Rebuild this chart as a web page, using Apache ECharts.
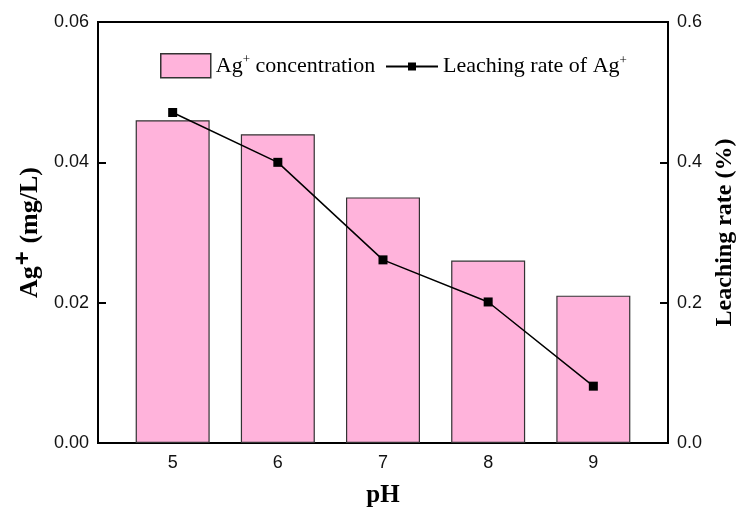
<!DOCTYPE html>
<html>
<head>
<meta charset="UTF-8">
<title>Ag+ vs pH</title>
<script src="https://cdn.jsdelivr.net/npm/echarts@6/dist/echarts.min.js"></script>
<style>
  html, body { margin: 0; padding: 0; background: #fff; }
  #chart { width: 740px; height: 515px; }
</style>
</head>
<body>
<div id="chart"></div>
<script>
// data
const phValues = [5, 6, 7, 8, 9];
const agConc = [0.046, 0.044, 0.035, 0.026, 0.021];        // mg/L
const leachRate = [0.471, 0.400, 0.261, 0.201, 0.081];      // %
const leftTicks = [0, 0.02, 0.04, 0.06];
const rightTicks = [0, 0.2, 0.4, 0.6];

const serif = '"Liberation Serif", "Times New Roman", serif';
const sans = '"Liberation Sans", Arial, sans-serif';

const chart = echarts.init(document.getElementById('chart'));

// superscript "+" helper for rich text
function sup(str, cls) {
  return str.split('+').map(function (p) { return '{' + cls + '|' + p + '}'; }).join('{' + cls + 's|+}').replace(/\{\w+\|\}/g, '');
}

const legendRich = {
  t: { fontFamily: serif, fontSize: 22, color: '#000' },
  ts: { fontFamily: serif, fontSize: 13, color: '#000', verticalAlign: 'top', padding: [0, 0, 12, 0] }
};

const option = {
  animation: false,
  grid: {
    left: 98, right: 72, top: 22, bottom: 72,
    outerBoundsMode: 'none', containLabel: false,
    show: true, borderColor: '#000', borderWidth: 2
  },
  legend: [
    {
      data: ['Ag+ concentration'],
      icon: 'rect',
      left: 160, top: 53, padding: 0,
      itemWidth: 50, itemHeight: 24, itemGap: 6,
      itemStyle: { borderColor: '#333', borderWidth: 1.5 },
      formatter: function (n) { return sup(n, 't'); },
      textStyle: { rich: legendRich }
    },
    {
      data: ['Leaching rate of Ag+'],
      left: 385, top: 54, padding: 0,
      itemWidth: 52, itemHeight: 10,
      formatter: function (n) { return sup(n, 't'); },
      textStyle: { rich: legendRich }
    }
  ],
  xAxis: {
    type: 'value',
    min: 4.29, max: 9.71,
    name: 'pH',
    nameLocation: 'middle',
    nameGap: 40,
    nameTextStyle: { fontFamily: serif, fontSize: 25, fontWeight: 'bold', color: '#000' },
    axisLine: { show: true, lineStyle: { color: '#000', width: 2 } },
    axisTick: { show: false },
    splitLine: { show: false },
    axisLabel: {
      customValues: phValues,
      fontFamily: sans, fontSize: 18, color: '#111', margin: 11
    }
  },
  yAxis: [
    {
      type: 'value',
      min: 0, max: 0.06, interval: 0.02,
      name: '{a|Ag}{s|+}{a| (mg/L)}',
      nameLocation: 'middle',
      nameRotate: 90,
      nameGap: 46,
      nameTextStyle: {
        rich: {
          a: { fontFamily: serif, fontSize: 26, fontWeight: 'bold', color: '#000' },
          s: { fontFamily: sans, fontSize: 24, fontWeight: 'bold', color: '#000', verticalAlign: 'top', padding: [0, 1, 14, 1] }
        }
      },
      axisLine: { show: true, lineStyle: { color: '#000', width: 2 } },
      axisTick: { show: true, inside: true, length: 8, lineStyle: { width: 2, color: '#000' } },
      splitLine: { show: false },
      axisLabel: {
        customValues: leftTicks,
        formatter: function (v) { return v.toFixed(2); },
        fontFamily: sans, fontSize: 18, color: '#111', margin: 9
      }
    },
    {
      type: 'value',
      min: 0, max: 0.6, interval: 0.2,
      position: 'right',
      name: 'Leaching rate (%)',
      nameLocation: 'middle',
      nameRotate: 90,
      nameGap: 41,
      nameTextStyle: { fontFamily: serif, fontSize: 24, fontWeight: 'bold', color: '#000' },
      axisLine: { show: true, lineStyle: { color: '#000', width: 2 } },
      axisTick: { show: true, inside: true, length: 8, lineStyle: { width: 2, color: '#000' } },
      splitLine: { show: false },
      axisLabel: {
        customValues: rightTicks,
        formatter: function (v) { return v.toFixed(1); },
        fontFamily: sans, fontSize: 18, color: '#111', margin: 9
      }
    }
  ],
  series: [
    {
      name: 'Ag+ concentration',
      type: 'bar',
      yAxisIndex: 0,
      barWidth: 74,
      itemStyle: { color: '#FFB3DB', borderColor: '#333', borderWidth: 1.2 },
      data: phValues.map(function (x, i) { return [x, agConc[i]]; })
    },
    {
      name: 'Leaching rate of Ag+',
      type: 'line',
      yAxisIndex: 1,
      symbol: 'rect',
      symbolSize: 9,
      lineStyle: { color: '#000', width: 1.5 },
      itemStyle: { color: '#000' },
      data: phValues.map(function (x, i) { return [x, leachRate[i]]; })
    }
  ]
};

chart.setOption(option);
</script>
</body>
</html>
